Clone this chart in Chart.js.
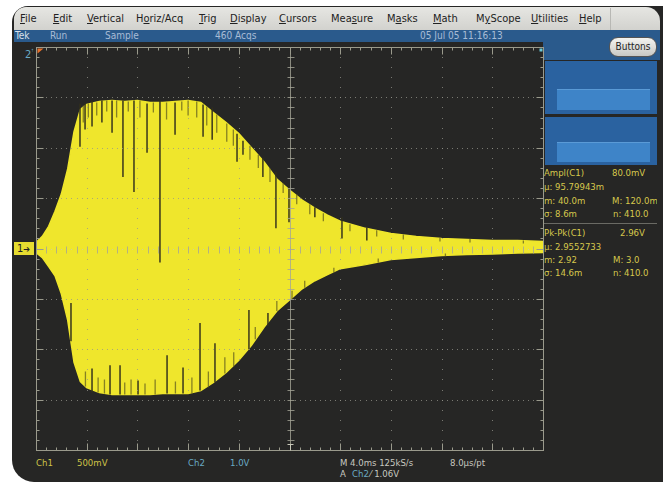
<!DOCTYPE html>
<html><head><meta charset="utf-8">
<script src="https://cdn.jsdelivr.net/npm/chart.js@4"></script>
<style>
html,body{margin:0;padding:0;background:#fff;width:663px;height:487px;overflow:hidden;font-family:"Liberation Sans Narrow","DejaVu Sans Condensed","Liberation Sans",Arial,sans-serif;}
.abs{position:absolute;white-space:nowrap;}
#bezel{left:12px;top:6px;width:651px;height:476px;background:#262625;border-radius:16px 0 0 22px;}
#menu{left:14px;top:7px;width:646px;height:23px;background:linear-gradient(#e6e6e2,#d2d2ce);border-radius:12px 14px 0 0;}
#menu span{position:absolute;top:5px;font-size:11px;color:#222;}
#menu u{text-decoration:underline;}
#sep{left:610px;top:8px;width:1px;height:22px;background:#b8b8b4;}
#status{left:14px;top:30px;width:646px;height:12px;background:#2a5a8c;}
#status span{position:absolute;top:0px;font-size:10px;line-height:12px;color:#a8bcd6;}
#rtop{left:543px;top:30px;width:117px;height:30px;background:#2a5a8c;}
#buttons{left:609px;top:37px;width:46px;height:18px;border-radius:9px;background:linear-gradient(#f4f4f0,#c8c8c4);border:1px solid #555;font-size:10px;line-height:18px;text-align:center;color:#222;}
.panel{left:545px;width:112px;background:#2a62a0;}
.inner{left:557px;width:93px;background:#3e84c8;border-top:1px solid #5a9ad6;}
#meas{left:543px;top:166px;width:114px;height:118px;overflow:hidden;font-size:9.5px;color:#d6c84c;}
#meas div{position:absolute;white-space:nowrap;line-height:12px;}
#bottom span{position:absolute;font-size:9.5px;line-height:12px;white-space:nowrap;}
.y{color:#cfc348;} .c{color:#6aaac4;} .w{color:#c8c8c0;}
#chartbox{left:30px;top:41px;width:520px;height:416px;}
</style></head>
<body>
<div id="bezel" class="abs"></div>
<div id="menu" class="abs">
<span style="left:6px"><u>F</u>ile</span>
<span style="left:39px"><u>E</u>dit</span>
<span style="left:73px"><u>V</u>ertical</span>
<span style="left:122px">H<u>o</u>riz/Acq</span>
<span style="left:185px"><u>T</u>rig</span>
<span style="left:216px"><u>D</u>isplay</span>
<span style="left:265px"><u>C</u>ursors</span>
<span style="left:317px">Mea<u>s</u>ure</span>
<span style="left:373px">M<u>a</u>sks</span>
<span style="left:419px"><u>M</u>ath</span>
<span style="left:462px">M<u>y</u>Scope</span>
<span style="left:517px"><u>U</u>tilities</span>
<span style="left:565px"><u>H</u>elp</span>
</div>
<div id="sep" class="abs"></div>
<div id="status" class="abs">
<span style="left:1px;color:#d8e0ea">Tek</span>
<span style="left:36px">Run</span>
<span style="left:91px">Sample</span>
<span style="left:201px">460 Acqs</span>
<span style="left:406px">05 Jul 05 11:16:13</span>
</div>
<div id="rtop" class="abs"></div>
<div id="buttons" class="abs">Buttons</div>
<div class="abs panel" style="top:61px;height:53px"></div>
<div class="abs inner" style="top:89px;height:20px"></div>
<div class="abs panel" style="top:117px;height:48px"></div>
<div class="abs inner" style="top:142px;height:19px"></div>
<div id="meas" class="abs">
<div style="left:1px;top:1px">Ampl(C1)</div><div style="left:69px;top:1px">80.0mV</div>
<div style="left:1px;top:15px">µ: 95.79943m</div>
<div style="left:1px;top:29px">m: 40.0m</div><div style="left:69px;top:29px">M: 120.0m</div>
<div style="left:1px;top:42px">σ: 8.6m</div><div style="left:70px;top:42px">n: 410.0</div>
<div style="left:0;top:57px;width:114px;height:1px;background:#6a6a64"></div>
<div style="left:1px;top:61px">Pk-Pk(C1)</div><div style="left:77px;top:61px">2.96V</div>
<div style="left:1px;top:75px">µ: 2.9552733</div>
<div style="left:1px;top:88px">m: 2.92</div><div style="left:70px;top:88px">M: 3.0</div>
<div style="left:1px;top:101px">σ: 14.6m</div><div style="left:70px;top:101px">n: 410.0</div>
</div>
<div class="abs c" style="left:25px;top:48px;font-size:11px;">2<span style="font-size:7px;vertical-align:top">ꜛ</span></div>
<div class="abs" style="left:14px;top:242px;width:20px;height:13px;background:#e6dc30;color:#222;font-size:11px;line-height:13px;padding-left:3px;box-sizing:border-box;">1<span style="font-size:9px">➔</span></div>
<div id="chartbox" class="abs"><canvas id="c" width="520" height="416"></canvas></div>
<div id="bottom">
<span class="y" style="left:36px;top:457px">Ch1</span>
<span class="y" style="left:77px;top:457px">500mV</span>
<span class="c" style="left:188px;top:457px">Ch2</span>
<span class="c" style="left:230px;top:457px">1.0V</span>
<span class="w" style="left:340px;top:457px">M 4.0ms 125kS/s</span>
<span class="w" style="left:450px;top:457px">8.0µs/pt</span>
<span class="w" style="left:340px;top:468px">A</span>
<span class="c" style="left:352px;top:468px">Ch2</span>
<span class="w" style="left:370px;top:468px">⁄ 1.06V</span>
</div>
<script>
// time in ms (M 4.0ms/div, 10 div), voltage in V (500mV/div, 8 div)
const timeMs = [0,0.5,1,1.5,2,2.5,3,3.5,4,5,6,7,8,9,10,11,12,13,14,15,16,17,18,19,20,21,22,23,24,26,28,30,32,34,36,38,40];
const upperV = [0.06,0.12,0.22,0.37,0.54,0.79,1.16,1.38,1.43,1.46,1.47,1.46,1.47,1.45,1.45,1.46,1.47,1.45,1.35,1.25,1.14,1.0,0.86,0.69,0.58,0.48,0.40,0.33,0.27,0.20,0.15,0.12,0.10,0.09,0.08,0.08,0.07];
const lowerV = [-0.04,-0.09,-0.18,-0.27,-0.45,-0.71,-1.13,-1.32,-1.38,-1.43,-1.45,-1.45,-1.45,-1.45,-1.44,-1.44,-1.44,-1.41,-1.33,-1.23,-1.11,-0.96,-0.78,-0.62,-0.51,-0.40,-0.32,-0.26,-0.20,-0.16,-0.11,-0.09,-0.07,-0.06,-0.055,-0.045,-0.04];
// long dark dropout streaks inside the trace
const dropT  = [3.47,3.87,4.42,5.2,6.0,6.86,7.73,8.76,9.78,10.97,13.18,13.9,15.86,16.33,17.9,18.93,19.96,22.0,24.14,26.1, 2.76,4.42,5.84,6.63,8.05,10.34,11.6,12.94,14.12,16.8,18.3];
const dropHi = [1.44,1.44,1.47,1.47,1.47,1.47,1.47,1.44,1.47,1.45,1.43,1.40,1.14,1.07,0.90,0.76,0.61,0.41,0.31,0.21, -0.54,-1.19,-1.16,-1.16,-1.31,-1.06,-1.18,-0.74,-0.94,-0.61,-0.64];
const dropLo = [1.01,1.18,1.21,1.25,1.15,0.71,0.56,0.95,-0.14,1.13,1.11,1.08,0.86,0.93,0.71,0.20,0.26,0.31,0.10,0.08, -0.92,-1.43,-1.45,-1.45,-1.45,-1.44,-1.44,-1.41,-1.33,-1.0,-0.77];
// short notches along the envelope edges
const notchT  = [3.73,4.13,4.79,5.58,6.36,7.28,8.2,9.26,10.3,11.5,12.0,12.68,13.47,14.26,15.05,15.57,16.88,17.54,18.46,19.5,20.57,21.6,22.67,24.77,26.88,28.98,31.87,34.24,38.45, 3.9,4.9,5.4,7.0,7.5,8.6,9.4,11.0,12.3,13.6,14.9,15.6,17.3,19.0,20.2,21.2,23.5,27.0,32.3];
const notchHi = [1.42,1.44,1.45,1.47,1.47,1.46,1.47,1.45,1.45,1.46,1.47,1.46,1.41,1.33,1.24,1.18,1.02,0.93,0.80,0.65,0.54,0.44,0.35,0.24,0.18,0.14,0.11,0.095,0.08, -1.22,-1.28,-1.30,-1.33,-1.30,-1.34,-1.30,-1.32,-1.28,-1.22,-1.08,-1.03,-0.78,-0.52,-0.42,-0.32,-0.19,-0.10,-0.05];
const notchLo = [1.25,1.30,1.32,1.36,1.30,1.36,1.30,1.35,1.28,1.37,1.32,1.30,1.22,1.15,1.06,1.02,0.88,0.80,0.66,0.55,0.44,0.34,0.27,0.17,0.12,0.09,0.07,0.06,0.05, -1.37,-1.43,-1.44,-1.45,-1.45,-1.45,-1.45,-1.44,-1.44,-1.38,-1.24,-1.17,-0.90,-0.62,-0.50,-0.39,-0.24,-0.14,-0.08];
const xDivs = 10, yDivs = 8, xMin = 0, xMax = 40, yMin = -2, yMax = 2;

const upperPts = timeMs.map((t,i)=>({x:t,y:upperV[i]}));
const lowerPts = timeMs.map((t,i)=>({x:t,y:lowerV[i]}));
function segs(T,H,L){ const out=[]; T.forEach((t,i)=>{ out.push({x:t,y:H[i]},{x:t,y:L[i]},{x:t,y:null}); }); return out; }

const YEL = '#efe62c';
const graticule = {
  id:'graticule',
  afterDatasetsDraw(chart){
    const {ctx, chartArea:a, scales:{x,y}} = chart;
    ctx.save();
    const xs = (xMax-xMin)/xDivs, ys = (yMax-yMin)/yDivs;
    const X = v=>Math.round(x.getPixelForValue(v))+0.5, Y = v=>Math.round(y.getPixelForValue(v))+0.5;
    ctx.fillStyle = 'rgba(150,150,140,0.75)';
    for(let i=1;i<xDivs;i++){ if(i===xDivs/2) continue; const px=X(xMin+i*xs);
      for(let k=1;k<yDivs*5;k++){ ctx.fillRect(px-0.5,Y(yMin+k*ys/5)-0.5,1,1);} }
    for(let j=1;j<yDivs;j++){ if(j===yDivs/2) continue; const py=Y(yMin+j*ys);
      for(let k=1;k<xDivs*10;k++){ ctx.fillRect(X(xMin+k*xs/10)-0.5,py-0.5,1,1);} }
    ctx.strokeStyle = 'rgba(165,165,150,0.8)'; ctx.lineWidth = 1;
    const cx = X((xMin+xMax)/2), cy = Y((yMin+yMax)/2);
    ctx.beginPath(); ctx.moveTo(cx,a.top); ctx.lineTo(cx,a.bottom); ctx.stroke();
    for(let k=1;k<xDivs*10;k++){ ctx.fillStyle='rgba(200,200,190,0.8)'; ctx.fillRect(X(xMin+k*xs/10)-0.5,cy-0.5,1,1); }
    ctx.beginPath();
    for(let k=1;k<yDivs*5;k++){ const py=Y(yMin+k*ys/5); ctx.moveTo(cx-3,py); ctx.lineTo(cx+4,py); }
    for(let k=1;k<xDivs*5;k++){ const px=X(xMin+k*xs/5); ctx.moveTo(px,cy-3); ctx.lineTo(px,cy+4); }
    ctx.stroke();
    ctx.strokeStyle = '#9a9a8c';
    ctx.strokeRect(X(xMin),Y(yMax),X(xMax)-X(xMin),Y(yMin)-Y(yMax));
    ctx.beginPath();
    for(let k=1;k<xDivs*5;k++){ const px=X(xMin+k*xs/5), L=(k%5===0)?7:3;
      ctx.moveTo(px,Y(yMax)); ctx.lineTo(px,Y(yMax)+L); ctx.moveTo(px,Y(yMin)); ctx.lineTo(px,Y(yMin)-L); }
    for(let k=1;k<yDivs*5;k++){ const py=Y(yMin+k*ys/5), L=(k%5===0)?7:3;
      ctx.moveTo(X(xMin),py); ctx.lineTo(X(xMin)+L,py); ctx.moveTo(X(xMax),py); ctx.lineTo(X(xMax)-L,py); }
    ctx.stroke();
    ctx.fillStyle = '#e8702a';
    ctx.beginPath(); ctx.moveTo(X(xMin)+1,Y(yMax)+1); ctx.lineTo(X(xMin)+7,Y(yMax)+1); ctx.lineTo(X(xMin)+1,Y(yMax)+6); ctx.fill();
    ctx.fillStyle = '#6ac8d8'; ctx.fillRect(X(xMax)-4,Y(yMax)+1,3,3);
    ctx.strokeStyle = '#c8c8b8'; ctx.beginPath(); ctx.moveTo(cx-3,Y(yMin)-6); ctx.lineTo(cx+3,Y(yMin)-6); ctx.moveTo(cx,Y(yMin)-6); ctx.lineTo(cx,Y(yMin)); ctx.stroke();
    ctx.restore();
  }
};

new Chart(document.getElementById('c'), {
  type:'line',
  data:{ datasets:[
    {label:'upper', data:upperPts, borderColor:YEL, backgroundColor:YEL, borderWidth:1.5, pointRadius:0, tension:0, fill:'+1', order:3},
    {label:'lower', data:lowerPts, borderColor:YEL, borderWidth:1.5, pointRadius:0, tension:0, fill:false, order:3},
    {label:'notches', data:segs(notchT,notchHi,notchLo), borderColor:'rgba(90,86,30,0.7)', borderWidth:1.3, pointRadius:0, spanGaps:false, fill:false, order:1},
    {label:'dropouts', data:segs(dropT,dropHi,dropLo), borderColor:'rgba(50,48,28,0.9)', borderWidth:1.6, pointRadius:0, spanGaps:false, fill:false, order:0}
  ]},
  options:{
    responsive:false, animation:false, events:[],
    layout:{padding:{left:6,top:6,right:7,bottom:7}},
    plugins:{legend:{display:false}, tooltip:{enabled:false}},
    scales:{
      x:{type:'linear', min:xMin, max:xMax, display:false},
      y:{type:'linear', min:yMin, max:yMax, display:false}
    }
  },
  plugins:[graticule]
});
</script>
</body></html>
